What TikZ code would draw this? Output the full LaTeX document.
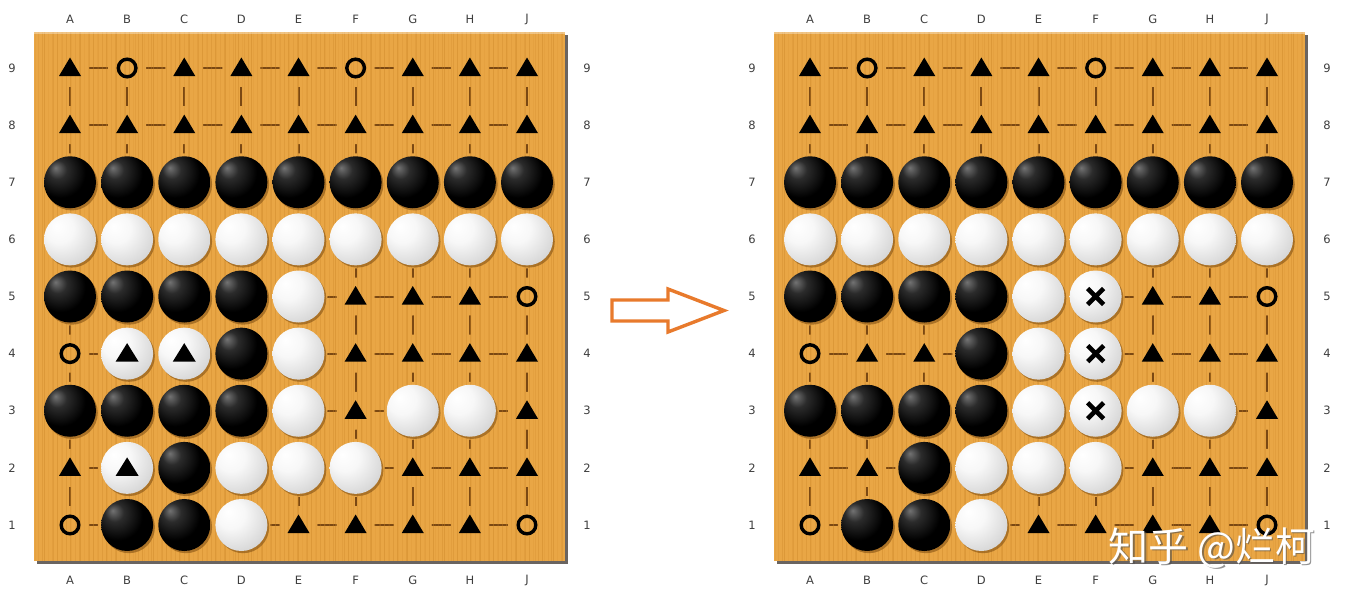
\documentclass[tikz,border=0pt]{standalone}
\usepackage{fontspec}
\setsansfont{DejaVu Sans}
\newfontfamily\cjkfont{Noto Sans CJK SC}
\definecolor{boardc}{HTML}{E9A645}
\definecolor{stripec}{HTML}{C98424}
\definecolor{gridc}{HTML}{7A4813}
\definecolor{shadowc}{HTML}{7A4A10}
\definecolor{edgec}{HTML}{6A6460}
\definecolor{arrowc}{HTML}{E87A2C}
\definecolor{labc}{HTML}{3E3E3E}
\pgfdeclareradialshading{bstone}{\pgfpoint{-14bp}{14bp}}{color(0bp)=(black!55); color(9bp)=(black!83); color(24bp)=(black); color(70bp)=(black)}
\pgfdeclareradialshading{wstone}{\pgfpoint{-13bp}{13bp}}{color(0bp)=(white); color(14bp)=(white!97!black); color(34bp)=(white!84!black); color(50bp)=(white!66!black); color(56bp)=(white!58!black); color(70bp)=(white!50!black)}
\tikzset{
  lab/.style={font=\sffamily\fontsize{11.5}{13}\selectfont, text=labc, inner sep=0pt},
  gridline/.style={draw=gridc, line width=2},
  tri/.style={fill=black},
  ring/.style={draw=black, line width=3.4},
  xmark/.style={draw=black, line width=4.6},
  arrowshape/.style={draw=arrowc, fill=white, line width=3.4, line join=miter}
}
% #1 pass (1 = halos, 2 = content), #2 x offset, #3 board spec
\newcommand\BoardPass[3]{%
  \foreach \rowspec [count=\j from 0] in {#3} {
    \foreach \c [count=\i from 0] in \rowspec {
      \pgfmathsetmacro\px{#2+70+57.125*\i}
      \pgfmathsetmacro\py{68+57.125*\j}
      \ifnum#1=1
        \def\hr{19}%
        \if b\c\def\hr{29}\fi
        \if w\c\def\hr{29}\fi
        \if W\c\def\hr{29}\fi
        \if X\c\def\hr{29}\fi
        \fill[boardc] (\px,\py) circle (\hr);
      \else
        \if b\c
          \fill[shadowc, opacity=0.55] (\px+1.8,\py+2.2) circle (26);
          \shade[shading=bstone] (\px,\py) circle (26);
        \fi
        \if w\c
          \fill[shadowc, opacity=0.55] (\px+1.8,\py+2.2) circle (26);
          \shade[shading=wstone] (\px,\py) circle (26);
        \fi
        \if W\c
          \fill[shadowc, opacity=0.55] (\px+1.8,\py+2.2) circle (26);
          \shade[shading=wstone] (\px,\py) circle (26);
          \fill[tri] (\px,\py-10.5) -- (\px+11.5,\py+8) -- (\px-11.5,\py+8) -- cycle;
        \fi
        \if X\c
          \fill[shadowc, opacity=0.55] (\px+1.8,\py+2.2) circle (26);
          \shade[shading=wstone] (\px,\py) circle (26);
          \draw[xmark] (\px-8,\py-8) -- (\px+8,\py+8) (\px-8,\py+8) -- (\px+8,\py-8);
        \fi
        \if t\c
          \fill[tri] (\px,\py-10.5) -- (\px+11,\py+8) -- (\px-11,\py+8) -- cycle;
        \fi
        \if o\c
          \draw[ring] (\px,\py) circle (8.8);
        \fi
      \fi
    }
  }
}
% #1 x offset, #2 spec
\newcommand\GoBoard[2]{%
  \fill[edgec] (#1+37,35) rectangle (#1+567.5,563.5);
  \fill[boardc] (#1+34,32) rectangle (#1+565,561);
  \foreach \k in {0,...,8} {
    \pgfmathsetmacro\gx{#1+70+57.125*\k}
    \pgfmathsetmacro\gy{68+57.125*\k}
    \draw[gridline] (\gx,68) -- (\gx,525);
    \draw[gridline] (#1+70,\gy) -- (#1+527,\gy);
  }
  \BoardPass{1}{#1}{#2}
  \begin{scope}
    \clip (#1+34,32) rectangle (#1+565,561);
    \foreach \k in {0,...,175} {
      \pgfmathsetmacro\sx{#1+35+3.03*\k+0.9*mod(\k*7,3)}
      \pgfmathsetmacro\so{0.12+0.09*mod(\k*5,4)}
      \draw[stripec, line width=0.9, opacity=\so] (\sx,32) -- (\sx,561);
    }
  \end{scope}
  \fill[white, opacity=0.35] (#1+34,32) rectangle (#1+565,33.5);
  \BoardPass{2}{#1}{#2}
  \foreach \L [count=\k from 0] in {A,B,C,D,E,F,G,H,J} {
    \pgfmathsetmacro\gx{#1+70+57.125*\k}
    \node[lab] (top\L#1) at (\gx,19) {\L};
    \node[lab] (bot\L#1) at (\gx,580) {\L};
  }
  \foreach \N [count=\k from 0] in {9,8,7,6,5,4,3,2,1} {
    \pgfmathsetmacro\gy{68+57.125*\k}
    \node[lab] (lft\N#1) at (#1+12,\gy) {\N};
    \node[lab] (rgt\N#1) at (#1+587,\gy) {\N};
  }
}
\begin{document}
\begin{tikzpicture}[x=1pt,y=-1pt]
\useasboundingbox (0,0) rectangle (1346,589);
\fill[white] (0,0) rectangle (1346,589);
\GoBoard{0}{%
  {t,o,t,t,t,o,t,t,t},
  {t,t,t,t,t,t,t,t,t},
  {b,b,b,b,b,b,b,b,b},
  {w,w,w,w,w,w,w,w,w},
  {b,b,b,b,w,t,t,t,o},
  {o,W,W,b,w,t,t,t,t},
  {b,b,b,b,w,t,w,w,t},
  {t,W,b,w,w,w,t,t,t},
  {o,b,b,w,t,t,t,t,o}}
\GoBoard{740}{%
  {t,o,t,t,t,o,t,t,t},
  {t,t,t,t,t,t,t,t,t},
  {b,b,b,b,b,b,b,b,b},
  {w,w,w,w,w,w,w,w,w},
  {b,b,b,b,w,X,t,t,o},
  {o,t,t,b,w,X,t,t,t},
  {b,b,b,b,w,X,w,w,t},
  {t,t,b,w,w,w,t,t,t},
  {o,b,b,w,t,t,t,t,o}}
\draw[arrowshape] (612,300) -- (668,300) -- (668,289) -- (724,310.5) -- (668,332) -- (668,321) -- (612,321) -- cycle;
\node[font=\cjkfont\fontsize{40}{40}\selectfont, text=black!70, opacity=0.6, inner sep=0pt] (wmshadow) at (1213.5,549.5) {知乎 @烂柯};
\node[font=\cjkfont\fontsize{40}{40}\selectfont, text=white, inner sep=0pt] (wm) at (1212,548) {知乎 @烂柯};
\end{tikzpicture}
\end{document}
